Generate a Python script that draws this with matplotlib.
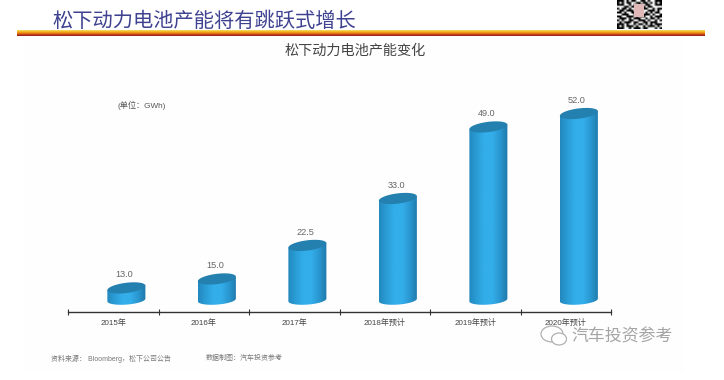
import numpy as np
import matplotlib
matplotlib.use("Agg")
import matplotlib.pyplot as plt
from matplotlib.colors import LinearSegmentedColormap
from matplotlib.patches import Ellipse, Polygon, Rectangle

plt.rcParams['font.family'] = ['Liberation Sans', 'Noto Sans CJK SC', 'DejaVu Sans']

categories = ["2015年", "2016年", "2017年", "2018年预计", "2019年预计", "2020年预计"]
values = [13.0, 15.0, 22.5, 33.0, 49.0, 52.0]
value_labels = ["13.0", "15.0", "22.5", "33.0", "49.0", "52.0"]

page_title = "松下动力电池产能将有跳跃式增长"
chart_title = "松下动力电池产能变化"
unit_text = "(单位：GWh)"
source_text = "资料来源： Bloomberg，松下公司公告"
credit_text = "数据制图：汽车投资参考"
watermark = "汽车投资参考"

qr_rows = [
    "1110101100110100111",
    "1010110011011010101",
    "1110010101101100111",
    "0001101110010110000",
    "1011010010111001011",
    "0110111001100111010",
    "1101001110101010110",
    "0011100101011101001",
    "1100111010110010111",
    "0111010111001011010",
    "1010011001110100101",
    "0101110110011011100",
    "1110100101101010111",
    "1010111010010111010",
    "1110010111011000101",
]

body_cmap = LinearSegmentedColormap.from_list(
    "body", ["#2388bd", "#2b9dd6", "#33aeea", "#33aeea", "#2a97d0", "#1f78a8"])
band_cmap = LinearSegmentedColormap.from_list(
    "band", ["#f3dc6a", "#f5b820", "#e88a10", "#c8401a", "#8c1a1a"])

fig = plt.figure(figsize=(7.24, 3.8), dpi=100, facecolor="white")

# chart area, lines up with the axis at y=311.5 px
ax = fig.add_axes([68 / 724, 1 - 311.5 / 380, (611 - 68) / 724, (311.5 - 80) / 380])
ax.patch.set_alpha(0)
xlim = (-0.5, 5.5)
ylim = (7.72, 59.5)

bar_w = 0.21
shift = 0.145
base = 10.3
b = 1.15
k = 0.5
t = np.linspace(0, 2 * np.pi, 120)
half = np.linspace(np.pi, 2 * np.pi, 60)
grad = np.linspace(0, 1, 256).reshape(1, -1)

for i, v in enumerate(values):
    cx = i + shift
    # outline of the side: top edge left to right, then round the front of the base
    bot_x = cx + bar_w * np.cos(half)
    bot_y = base + b * np.sin(half) * 0.9 + k * 0.6 * np.cos(half)
    pts = np.r_[np.c_[[cx - bar_w, cx + bar_w], [v - k, v + k]], np.c_[bot_x, bot_y][::-1]]
    im = ax.imshow(grad, cmap=body_cmap, aspect="auto", zorder=2,
                   extent=[cx - bar_w, cx + bar_w, base - 2, v + 2])
    side = Polygon(pts, closed=True, transform=ax.transData, facecolor="none", edgecolor="none")
    ax.add_patch(side)
    im.set_clip_path(side)
    ax.fill(cx + bar_w * np.cos(t), v + b * np.sin(t) + k * np.cos(t),
            color="#2480ae", lw=0, zorder=3)
    ax.text(cx - 0.02, v + 2.9, value_labels[i], ha="center", va="center",
            fontsize=6.6, color="#666666", zorder=4)

ax.set_xlim(xlim)
ax.set_ylim(ylim)
ax.set_xticks(np.arange(-0.5, 6, 1))
ax.set_xticklabels([])
ax.set_xticks(np.arange(6), minor=True)
ax.set_xticklabels(categories, minor=True, fontsize=5.8, color="#444444")
ax.tick_params(axis="x", which="major", direction="inout", length=4, width=0.8, color="#333333")
ax.tick_params(axis="x", which="minor", length=0, pad=5.5)
ax.set_yticks([])
for s in ["top", "left", "right"]:
    ax.spines[s].set_visible(False)
ax.spines["bottom"].set_linewidth(1.0)
ax.spines["bottom"].set_color("#333333")

# everything around the chart is placed in pixel coordinates
over = fig.add_axes([0, 0, 1, 1], zorder=-1)
over.axis("off")
top = fig.add_axes([0, 0, 1, 1], zorder=5)
top.axis("off")
top.patch.set_alpha(0)

over.imshow(np.linspace(0, 1, 32).reshape(-1, 1), cmap=band_cmap, aspect="auto",
            extent=[17, 705, 36, 30.5])

over.add_patch(Rectangle((25, 38), 660, 335, facecolor="#fefefe", edgecolor="none", zorder=0))

over.text(52, 21, page_title, fontsize=14.6, color="#3f4290", va="center", ha="left")
over.text(355, 51, chart_title, fontsize=10.2, color="#444444", va="center", ha="center")
over.text(118, 105, unit_text, fontsize=5.9, color="#555555", va="center", ha="left")
over.text(51, 358.5, source_text, fontsize=5, color="#777777", va="center", ha="left")
over.text(206, 358.5, credit_text, fontsize=5, color="#777777", va="center", ha="left")

# QR code in the corner
qr = np.array([[int(c) for c in row] for row in qr_rows])
over.imshow(1 - qr, cmap="gray", vmin=0, vmax=1, aspect="auto", interpolation="bilinear",
            extent=[617, 662, 29, 0], zorder=2)
over.add_patch(Rectangle((634, 4), 10, 13, facecolor="#e0b8b8", edgecolor="none", zorder=3))
over.set_xlim(0, 724)
over.set_ylim(380, 0)

# watermark on top of the chart
top.set_xlim(0, 724)
top.set_ylim(380, 0)
top.text(571, 336, watermark, fontsize=12.2, color="#a5a5a5", va="center", ha="left", style="italic")
top.add_patch(Ellipse((552, 334), 22, 16, fill=False, ec="#b0b0b0", lw=0.9))
top.add_patch(Ellipse((559, 339), 15, 12, facecolor="white", ec="#b0b0b0", lw=0.9))

fig.savefig("out.png", dpi=100)
